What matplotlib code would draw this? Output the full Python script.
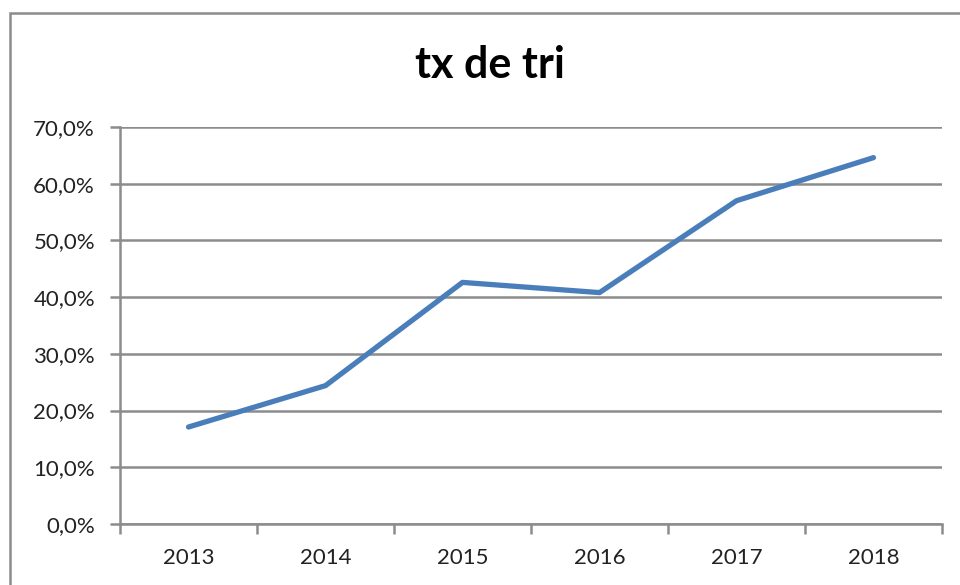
import matplotlib
matplotlib.use('Agg')
import matplotlib.pyplot as plt
from matplotlib.patches import Rectangle
from matplotlib.ticker import FuncFormatter, MultipleLocator

#----------------------------------------------------------
# données
years = ['2013', '2014', '2015', '2016', '2017', '2018']
taux = [17.1, 24.4, 42.6, 40.8, 57.0, 64.6]

plt.rcParams['font.family'] = ['Lato', 'DejaVu Sans']

fig = plt.figure(figsize=(9.6, 5.85), dpi=100)

# cadre extérieur du graphique (coupé à droite et en bas)
fig.patches.append(Rectangle((10 / 960, -0.05), 1.0, 1 - 13 / 585 + 0.05,
                             transform=fig.transFigure, fill=False,
                             edgecolor='#8c8c8c', linewidth=1.8))

ax = fig.add_axes([120 / 960, 61 / 585, 822 / 960, 397 / 585])

x = list(range(len(years)))
ax.plot(x, taux, color='#4a7ebb', linewidth=3.8, solid_capstyle='round',
        solid_joinstyle='round', zorder=3)

ax.set_xlim(-0.5, len(years) - 0.5)
ax.set_ylim(0, 70)
ax.yaxis.set_major_locator(MultipleLocator(10))
ax.yaxis.set_major_formatter(FuncFormatter(lambda v, _: ('%.1f%%' % v).replace('.', ',')))

# graduations entre les catégories
ax.set_xticks([i - 0.5 for i in range(len(years) + 1)])
ax.set_xticklabels([])
ax.set_xticks(x, minor=True)
ax.set_xticklabels(years, minor=True)
ax.tick_params(axis='x', which='major', length=7, width=1.8, color='#8c8c8c', direction='out')
ax.tick_params(axis='x', which='minor', length=0, pad=17, labelsize=16, labelcolor='#222222')
ax.tick_params(axis='y', length=7, width=1.8, color='#8c8c8c', pad=11,
               labelsize=16, labelcolor='#222222')

ax.grid(axis='y', color='#8c8c8c', linewidth=1.8)
ax.set_axisbelow(True)
for side in ['top', 'right']:
    ax.spines[side].set_visible(False)
for side in ['left', 'bottom']:
    ax.spines[side].set_color('#8c8c8c')
    ax.spines[side].set_linewidth(1.8)

fig.text(490 / 960, 1 - 65 / 585, 'tx de tri', ha='center', va='center',
         fontsize=31, fontweight='bold')

fig.savefig('out.png', dpi=100)
